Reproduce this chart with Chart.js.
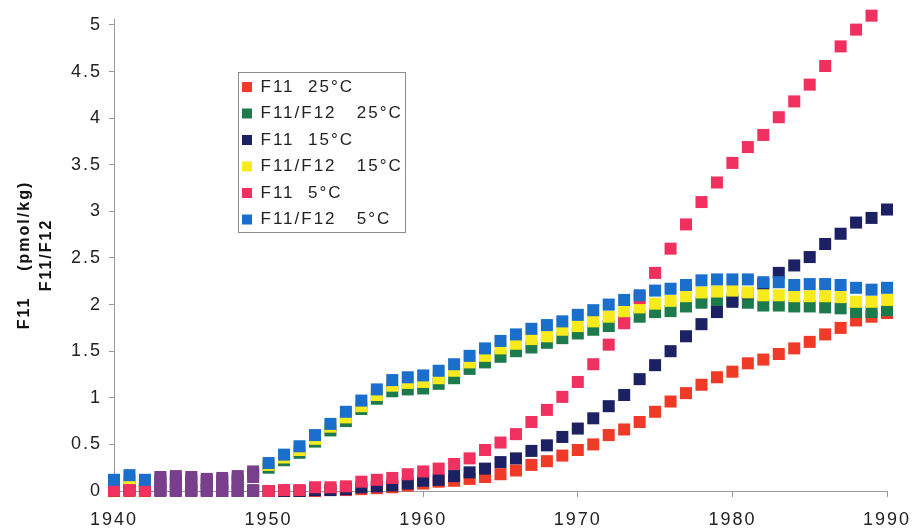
<!DOCTYPE html>
<html>
<head>
<meta charset="utf-8">
<script src="https://cdn.jsdelivr.net/npm/chart.js@4.4.1/dist/chart.umd.min.js"></script>
<style>
html,body{margin:0;padding:0;background:#fff;}
#wrap{width:914px;height:530px;position:relative;}
</style>
</head>
<body>
<div id="wrap"><canvas id="c" width="914" height="530"></canvas></div>
<script>
// ---- data ----
const years = [1940,1941,1942,1943,1944,1945,1946,1947,1948,1949,
               1950,1951,1952,1953,1954,1955,1956,1957,1958,1959,
               1960,1961,1962,1963,1964,1965,1966,1967,1968,1969,
               1970,1971,1972,1973,1974,1975,1976,1977,1978,1979,
               1980,1981,1982,1983,1984,1985,1986,1987,1988,1989,1990];

const f11_25 = [0.00,0.00,0.00,0.00,0.00,0.00,0.00,0.00,0.00,0.00,
                0.00,0.00,0.00,0.00,0.01,0.01,0.02,0.03,0.04,0.06,
                0.08,0.10,0.11,0.13,0.15,0.18,0.22,0.28,0.32,0.38,
                0.44,0.50,0.60,0.66,0.74,0.85,0.96,1.05,1.14,1.22,
                1.28,1.37,1.41,1.47,1.53,1.60,1.68,1.75,1.83,1.87,1.91];

const ratio_25 = [0.06,0.10,0.06,0.09,0.10,0.09,0.08,0.08,0.10,0.15,
                  0.25,0.33,0.41,0.53,0.65,0.75,0.88,0.99,1.07,1.09,
                  1.10,1.15,1.21,1.31,1.38,1.44,1.50,1.54,1.59,1.64,
                  1.69,1.73,1.77,1.82,1.87,1.92,1.93,1.98,2.02,2.04,
                  2.05,2.02,1.99,1.99,1.98,1.98,1.97,1.96,1.92,1.92,1.94];

const f11_15 = [0.01,0.01,0.01,0.01,0.01,0.01,0.01,0.01,0.01,0.01,
                0.00,0.00,0.00,0.01,0.01,0.02,0.04,0.05,0.06,0.08,
                0.11,0.12,0.16,0.20,0.24,0.31,0.35,0.43,0.49,0.58,
                0.67,0.78,0.91,1.03,1.20,1.35,1.50,1.66,1.79,1.92,
                2.03,2.12,2.22,2.34,2.42,2.51,2.65,2.76,2.88,2.93,3.02];

const ratio_15 = [0.09,0.13,0.09,0.12,0.13,0.12,0.11,0.11,0.13,0.18,
                  0.28,0.36,0.44,0.56,0.69,0.79,0.91,1.03,1.13,1.16,
                  1.17,1.21,1.29,1.38,1.45,1.53,1.58,1.63,1.66,1.73,
                  1.77,1.82,1.87,1.92,1.97,2.01,2.04,2.09,2.13,2.14,
                  2.15,2.13,2.10,2.10,2.09,2.09,2.09,2.08,2.03,2.03,2.05];

const f11_5 = [0.01,0.01,0.01,0.01,0.01,0.01,0.01,0.00,0.00,0.00,
               0.00,0.01,0.01,0.04,0.04,0.05,0.10,0.12,0.14,0.18,
               0.21,0.24,0.29,0.35,0.44,0.52,0.61,0.74,0.87,1.01,
               1.17,1.36,1.57,1.80,2.07,2.34,2.60,2.86,3.10,3.31,
               3.52,3.69,3.82,4.01,4.18,4.36,4.56,4.77,4.95,5.10,null];

const ratio_5 = [0.12,0.17,0.12,0.15,0.16,0.15,0.13,0.14,0.16,0.21,
                 0.30,0.39,0.48,0.60,0.72,0.85,0.97,1.09,1.19,1.22,
                 1.24,1.29,1.36,1.45,1.53,1.61,1.68,1.74,1.78,1.82,
                 1.89,1.94,2.00,2.05,2.10,2.15,2.17,2.21,2.26,2.27,
                 2.27,2.27,2.24,2.24,2.21,2.22,2.22,2.21,2.18,2.16,2.18];

const seriesLabels = ['F11  25°C','F11/F12   25°C','F11  15°C','F11/F12   15°C','F11  5°C','F11/F12   5°C'];
const seriesValues = [f11_25, ratio_25, f11_15, ratio_15, f11_5, ratio_5];

const xTicks = [1940,1950,1960,1970,1980,1990];
const yTicks = [0,0.5,1,1.5,2,2.5,3,3.5,4,4.5,5];
const yTitle = ['F11    (pmol/kg)', 'F11/F12'];

// ---- style ----
const colors = ['#ee3a26','#1d7a4c','#1c2163','#f7ea1d','#f0305f','#1a6fcc'];
const PURPLE = '#7a3f8c';
const purpleStart = 1943, purpleEnd = 1949;
const FONT = "'Liberation Sans', Arial, Helvetica, sans-serif";

function pointColor(base) {
  return (ctx) => {
    if (ctx.type === 'data' && ctx.raw && ctx.raw.x >= purpleStart && ctx.raw.x <= purpleEnd) return PURPLE;
    return base;
  };
}

const datasets = seriesValues.map((vals, i) => ({
  label: seriesLabels[i],
  data: years.map((y, k) => ({x: y, y: vals[k]})),
  backgroundColor: pointColor(colors[i]),
  borderColor: pointColor(colors[i]),
  borderWidth: 0,
  pointStyle: 'rect',
  pointRadius: 8.5,
  pointHoverRadius: 8.5,
  order: seriesValues.length - i,
  clip: {left: 10, top: false, right: 10, bottom: 10}
}));

const spacingPlugin = {
  id: 'spacing',
  beforeUpdate(chart) { chart.ctx.letterSpacing = '2px'; },
  beforeLayout(chart) { chart.ctx.letterSpacing = '2px'; },
  beforeDraw(chart) { chart.ctx.letterSpacing = '2px'; }
};

const legendPlace = {
  id: 'legendPlace',
  afterLayout(chart) {
    const lg = chart.legend;
    lg.left = 232.5; lg.top = 69;
    lg.right = lg.left + lg.width; lg.bottom = lg.top + lg.height;
  },
  afterDraw(chart) {
    const ctx = chart.ctx;
    ctx.save();
    ctx.strokeStyle = '#8c8c8c';
    ctx.lineWidth = 1;
    ctx.strokeRect(238.5, 72.5, 167, 160);
    ctx.restore();
  }
};

new Chart(document.getElementById('c'), {
  type: 'scatter',
  data: { datasets },
  plugins: [spacingPlugin, legendPlace],
  options: {
    responsive: false,
    animation: false,
    events: [],
    layout: { padding: { left: 0, top: 19, right: 0, bottom: 0 } },
    plugins: {
      tooltip: { enabled: false },
      legend: {
        position: 'chartArea',
        align: 'start',
        labels: {
          font: { family: FONT, size: 17 },
          color: '#222',
          boxWidth: 10,
          boxHeight: 10,
          padding: 9.5,
          sort: (a, b) => a.datasetIndex - b.datasetIndex
        }
      }
    },
    scales: {
      x: {
        type: 'linear',
        min: 1940, max: 1990,
        afterBuildTicks: (s) => { s.ticks = xTicks.map(v => ({value: v})); },
        afterFit: (s) => { s.height = 39; s.paddingRight = 27; },
        ticks: {
          callback: (v) => String(v),
          font: { family: FONT, size: 18 },
          color: '#222',
          padding: 12,
          maxRotation: 0
        },
        grid: { drawOnChartArea: false, drawTicks: true, tickLength: 6, color: '#9a9a9a' },
        border: { color: '#9a9a9a', width: 1 }
      },
      y: {
        min: 0, max: 5.064,
        afterBuildTicks: (s) => { s.ticks = yTicks.map(v => ({value: v})); },
        afterFit: (s) => { s.width = 114; },
        ticks: {
          callback: (v) => String(v),
          font: { family: FONT, size: 18 },
          color: '#222',
          padding: 7
        },
        grid: { drawOnChartArea: false, drawTicks: true, tickLength: 5, color: '#9a9a9a' },
        border: { color: '#9a9a9a', width: 1 },
        title: {
          display: true,
          text: yTitle,
          font: { family: FONT, size: 16, weight: 'bold', lineHeight: 1.4 },
          color: '#111',
          padding: { top: 13, bottom: 0 }
        }
      }
    }
  }
});
</script>
</body>
</html>
